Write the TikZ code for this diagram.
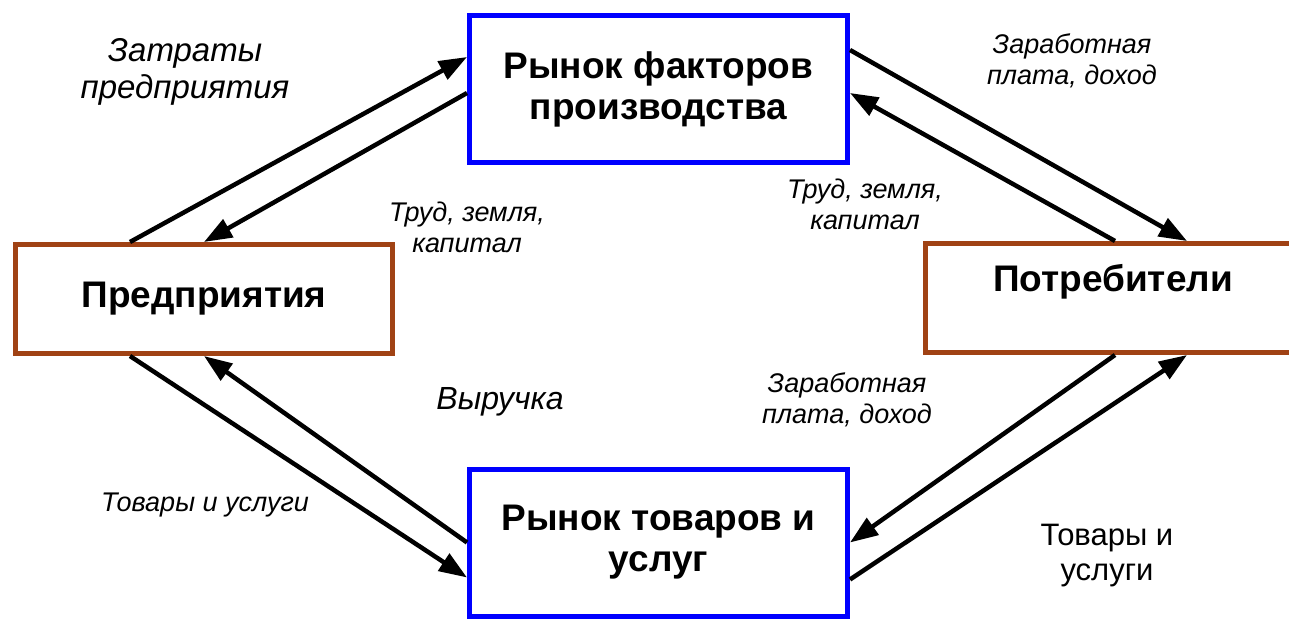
\documentclass[tikz,border=0pt]{standalone}
\usepackage{fontspec}
\setmainfont{Liberation Sans}
\usetikzlibrary{arrows.meta}
\usetikzlibrary{calc}
\definecolor{rust}{RGB}{160,66,20}

\begin{document}
\begin{tikzpicture}[x=1pt, y=-1pt, line width=4.5pt,
    market/.style={rectangle, draw=blue, line width=5pt, minimum width=378pt, minimum height=147pt, align=center, font=\fontsize{37}{41}\selectfont\bfseries},
    agent/.style={rectangle, draw=rust, line width=5pt, minimum width=377pt, minimum height=109pt, font=\fontsize{37}{41}\selectfont\bfseries},
    flow/.style={-{Triangle[length=28pt, width=20pt]}},
    note/.style={align=center, font=\fontsize{27}{31}\selectfont\itshape},
    bignote/.style={align=center, font=\fontsize{33}{37}\selectfont\itshape}]
        \useasboundingbox (0,0) rectangle (1289,621);
        \fill[white] (0,0) rectangle (1289,621);

        \node (fact) [market] at (658.5, 89) {Рынок факторов\\производства};
        \node (tov) [market] at (658.5, 542.5) {Рынок товаров и\\услуг};
        \node (pred) [agent] at (204, 299) {Предприятия};
        \node (potr) [agent, minimum width=375pt, text depth=40pt] at (1113, 298) {Потребители};

        \draw[flow] ($(pred.north west)+(117,0)$) -- ($(fact.west)+(0,-32)$);
        \draw[flow] ($(fact.west)+(0,4)$) -- (pred.north);
        \draw[flow] ($(fact.east)+(0,-39)$) -- ($(potr.north west)+(264,0)$);
        \draw[flow] ($(potr.north west)+(192,0)$) -- ($(fact.east)+(0,4)$);
        \draw[flow] ($(pred.south west)+(117,0)$) -- ($(tov.west)+(0,35)$);
        \draw[flow] (tov.west) -- (pred.south);
        \draw[flow] ($(potr.south west)+(192,0)$) -- (tov.east);
        \draw[flow] ($(tov.east)+(0,37)$) -- ($(potr.south west)+(264,0)$);

        \node (zatr) [bignote] at (185, 72) {Затраты\\предприятия};
        \node (trudl) [note] at (467, 227) {Труд, земля,\\капитал};
        \node (zarpt) [note] at (1072, 61) {Заработная\\плата, доход};
        \node (trudr) [note] at (865, 204) {Труд, земля,\\капитал};
        \node (vyr) [bignote, font=\fontsize{32}{37}\selectfont\itshape] at (500, 402) {Выручка};
        \node (zarpb) [note] at (847, 400) {Заработная\\плата, доход};
        \node (tovl) [note] at (205, 505) {Товары и услуги};
        \node (tovr) [align=center, font=\fontsize{31}{35}\selectfont] at (1107, 556) {Товары и\\услуги};
\end{tikzpicture}
\end{document}
